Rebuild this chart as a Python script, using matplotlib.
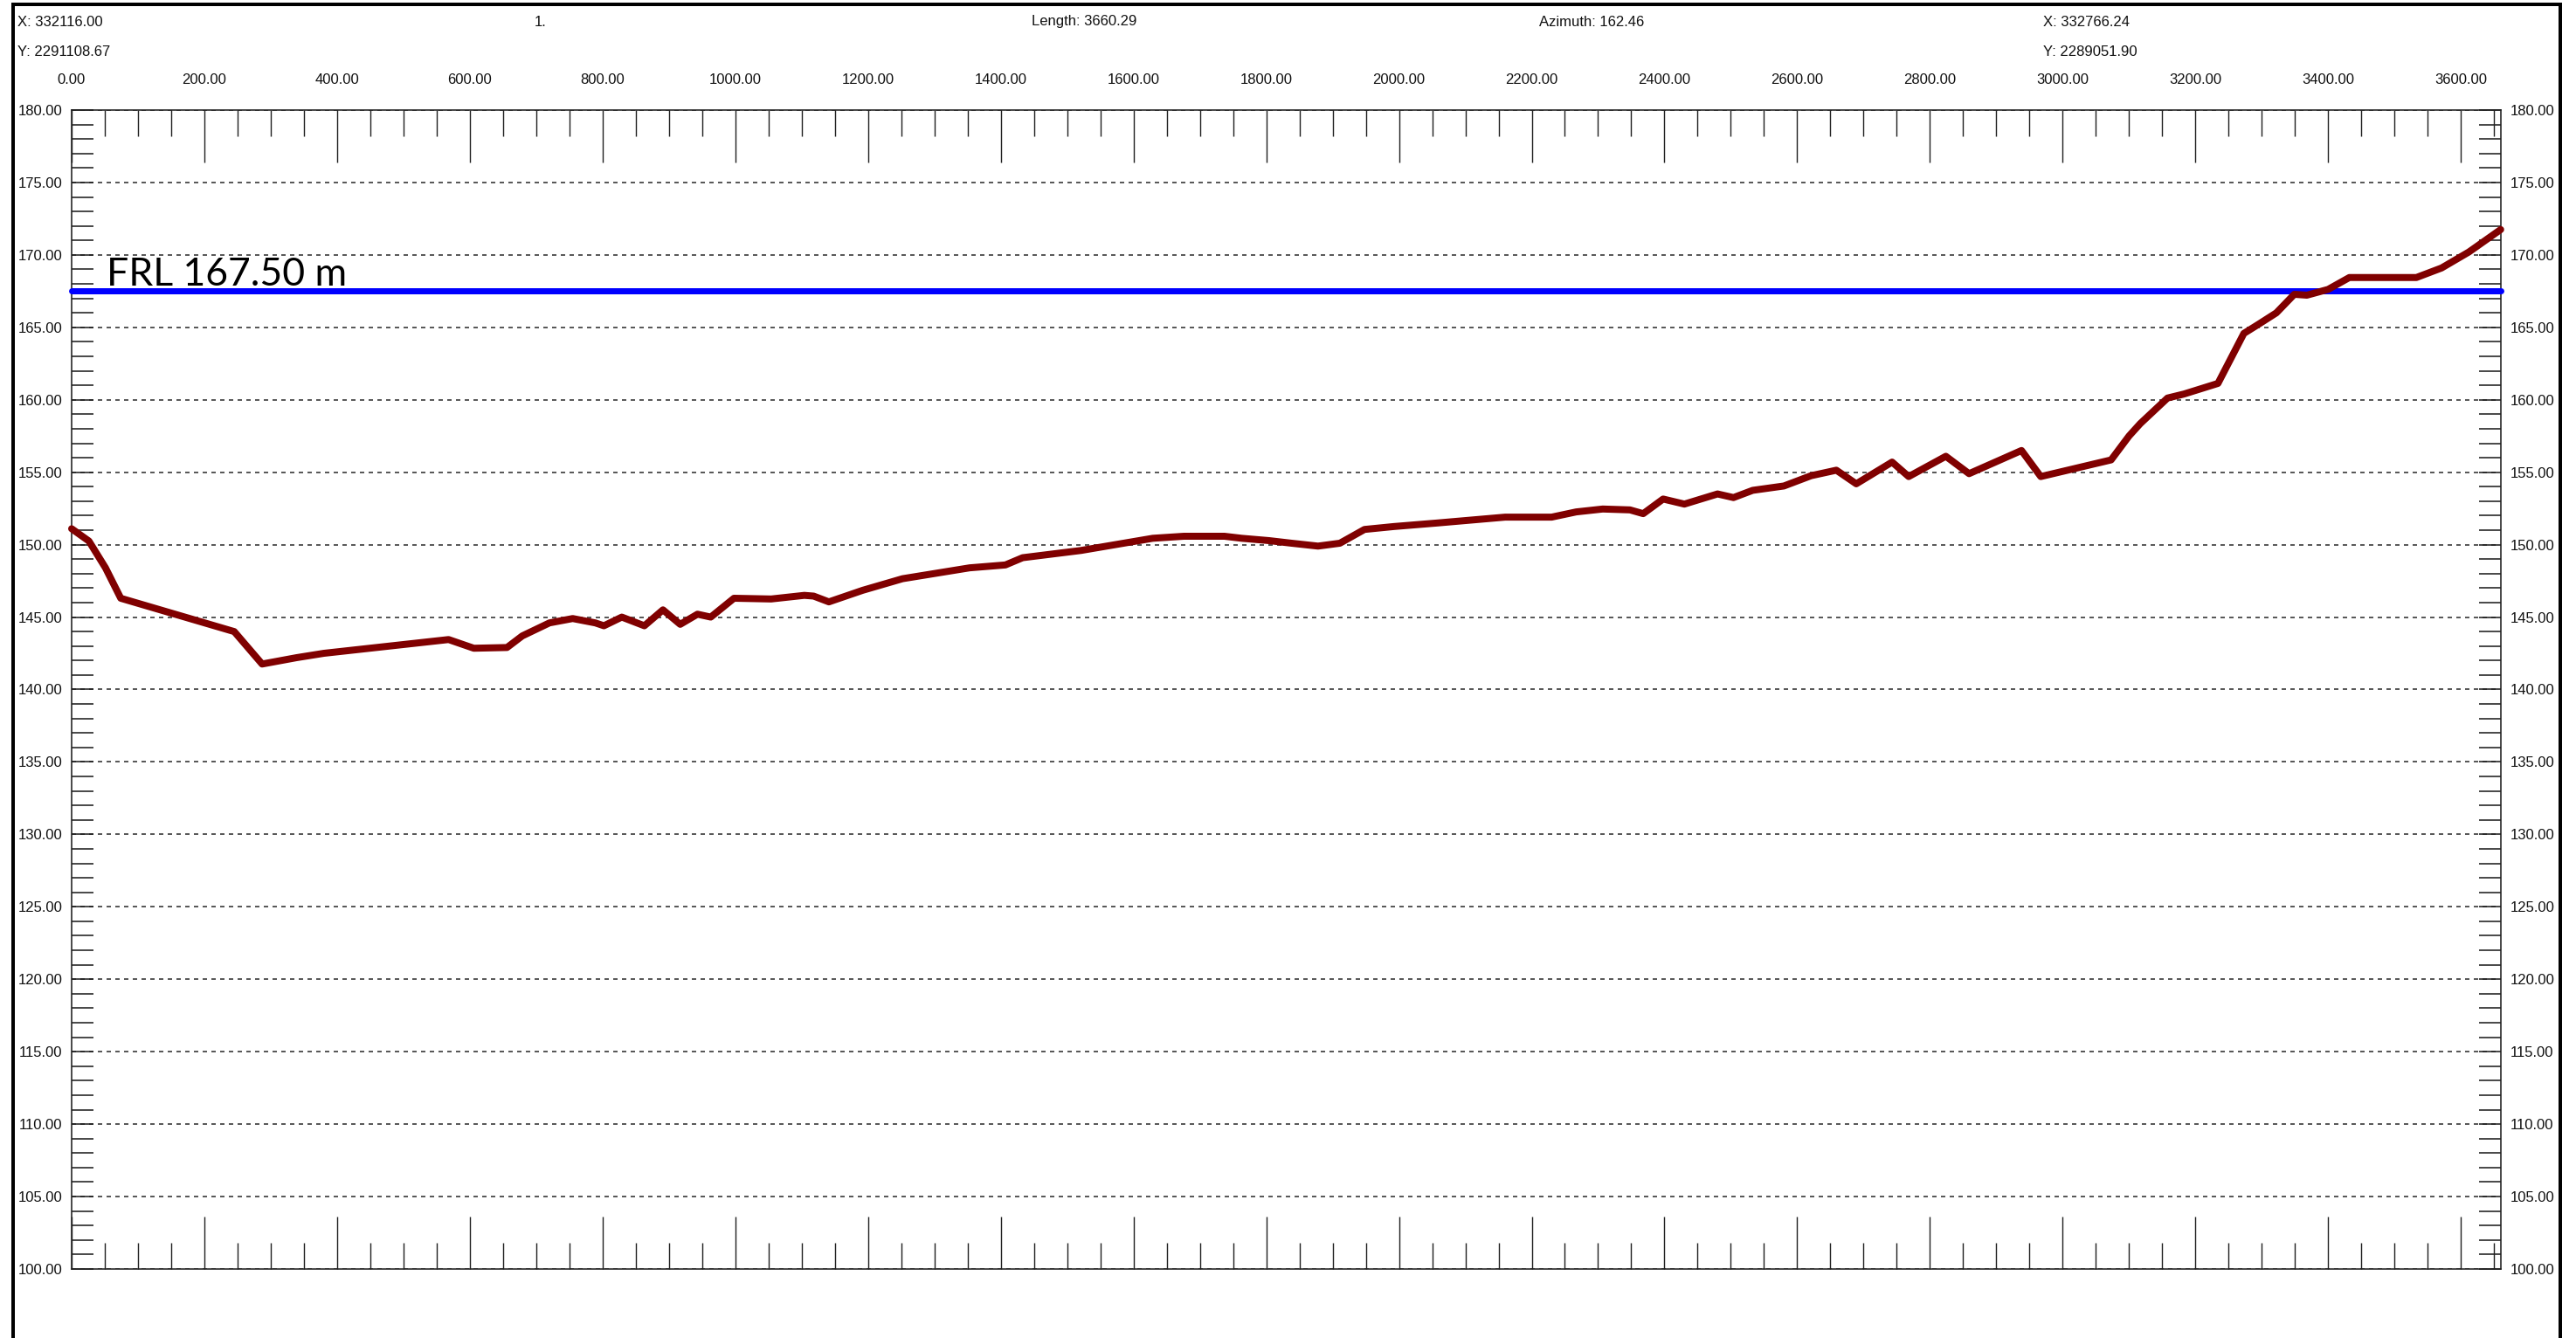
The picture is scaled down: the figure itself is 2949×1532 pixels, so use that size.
import matplotlib
matplotlib.use("Agg")
import matplotlib.pyplot as plt
from matplotlib.ticker import FixedLocator, FuncFormatter
from matplotlib.lines import Line2D

# ---- section data -------------------------------------------------------
chainage = [0, 26, 51, 74, 245, 287, 339, 380, 568, 606, 656, 679, 720, 755,
            789, 802, 829, 863, 891, 917, 943, 963, 998, 1054, 1104, 1118,
            1141, 1192, 1252, 1353, 1407, 1433, 1521, 1629, 1676, 1737, 1763,
            1804, 1838, 1878, 1911, 1948, 1992, 2059, 2160, 2230, 2267, 2307,
            2348, 2368, 2398, 2430, 2480, 2504, 2533, 2580, 2621, 2659, 2689,
            2743, 2768, 2824, 2859, 2938, 2967, 3073, 3100, 3117, 3158, 3183,
            3234, 3273, 3294, 3322, 3349, 3368, 3400, 3432, 3533, 3571, 3612,
            3660]
elevation = [151.1, 150.25, 148.4, 146.3, 144.0, 141.76, 142.2, 142.5, 143.45,
             142.85, 142.9, 143.7, 144.6, 144.9, 144.6, 144.4, 145.0, 144.4,
             145.5, 144.5, 145.2, 145.0, 146.3, 146.25, 146.5, 146.45, 146.05,
             146.85, 147.65, 148.4, 148.6, 149.1, 149.6, 150.44, 150.58, 150.58,
             150.44, 150.28, 150.1, 149.9, 150.1, 151.05, 151.25, 151.5, 151.9,
             151.9, 152.26, 152.46, 152.4, 152.14, 153.15, 152.8, 153.5, 153.25,
             153.75, 154.05, 154.76, 155.14, 154.2, 155.7, 154.7, 156.1, 154.9,
             156.5, 154.7, 155.85, 157.5, 158.36, 160.12, 160.4, 161.13, 164.58,
             165.18, 166.0, 167.28, 167.22, 167.62, 168.44, 168.44, 169.1, 170.2,
             171.75]

frl_level = 167.50
profile_length = 3660.29
azimuth = 162.46
section_label = "1."
start_xy = ("332116.00", "2291108.67")
end_xy = ("332766.24", "2289051.90")

x_major = list(range(0, 3601, 200))
x_minor = [v for v in range(50, 3651, 50) if v % 200]
y_major = list(range(100, 181, 5))
y_minor = [v for v in range(100, 181) if v % 5]
y_range = (100, 180)

# ---- figure geometry ----------------------------------------------------
W, H, DPI = 2949, 1532, 100
PT = 72.0 / DPI          # points per pixel
plt.rcParams["font.family"] = ["Liberation Sans", "DejaVu Sans"]
plt.rcParams["lines.scale_dashes"] = False
TXT = "#111111"
SMALL = 12

fig = plt.figure(figsize=(W / DPI, H / DPI), dpi=DPI)
fig.patch.set_facecolor("white")
ax_l, ax_r, ax_t, ax_b = 82, 2863, 126, 1453
ax = fig.add_axes([ax_l / W, 1 - ax_b / H, (ax_r - ax_l) / W, (ax_b - ax_t) / H])
ax.set_xlim(0, profile_length)
ax.set_ylim(*y_range)

for sp in ax.spines.values():
    sp.set_linewidth(1.6 * PT)
    sp.set_color("#202020")

# chainage ticks: top and bottom, pointing inward, labels on top
ax.xaxis.set_major_locator(FixedLocator(x_major))
ax.xaxis.set_minor_locator(FixedLocator(x_minor))
ax.xaxis.set_major_formatter(FuncFormatter(lambda v, p: f"{v:.2f}"))
ax.tick_params(axis="x", which="both", direction="in", top=True, bottom=True,
               labeltop=True, labelbottom=False, width=1.4 * PT, color="#202020",
               labelsize=SMALL, labelcolor=TXT)
ax.tick_params(axis="x", which="major", length=60 * PT, pad=19.5)
ax.tick_params(axis="x", which="minor", length=30 * PT)

# elevation ticks on both sides
ax.yaxis.set_major_locator(FixedLocator(y_major))
ax.yaxis.set_minor_locator(FixedLocator(y_minor))
ax.yaxis.set_major_formatter(FuncFormatter(lambda v, p: f"{v:.2f}"))
ax.tick_params(axis="y", which="both", direction="in", left=True, right=True,
               labelleft=True, labelright=True, length=25 * PT, width=1.6 * PT,
               color="#202020", labelsize=SMALL, labelcolor=TXT)
ax.tick_params(axis="y", which="major", pad=7.5)

ax.yaxis.grid(True, which="major", color="#222222", linewidth=1.5 * PT,
              linestyle=(0, (5 * PT, 5 * PT)))
ax.set_axisbelow(True)

# formation level line
ax.plot([0, profile_length], [frl_level, frl_level], color="#0000ff",
        linewidth=7 * PT, solid_capstyle="round", clip_on=False, zorder=3)
ax.text(52, 167.9, f"FRL {frl_level:.2f} m", family=["Lato", "DejaVu Sans"],
        fontsize=32, color="black", ha="left", va="baseline", zorder=5)

# ground profile
ax.plot(chainage, elevation, color="#800000", linewidth=8 * PT,
        solid_capstyle="round", solid_joinstyle="round", clip_on=False, zorder=4)

# header information
def ftext(x, y, s, ha="left"):
    fig.text(x / W, 1 - y / H, s, ha=ha, va="center", fontsize=SMALL, color=TXT)

ftext(20, 25, f"X: {start_xy[0]}")
ftext(20, 59, f"Y: {start_xy[1]}")
ftext(612, 25, section_label)
ftext(1241, 25, f"Length: {profile_length:.2f}", ha="center")
ftext(1822, 25, f"Azimuth: {azimuth:.2f}", ha="center")
ftext(2339, 25, f"X: {end_xy[0]}")
ftext(2339, 59, f"Y: {end_xy[1]}")

# window frame
frame_kw = dict(color="black", linewidth=4 * PT, transform=fig.transFigure)
fig.add_artist(Line2D([15 / W, 15 / W], [0, 1 - 5 / H], **frame_kw))
fig.add_artist(Line2D([15 / W, 2931 / W], [1 - 5 / H, 1 - 5 / H], **frame_kw))
fig.add_artist(Line2D([2931 / W, 2931 / W], [0, 1 - 5 / H], **frame_kw))

fig.savefig("out.png", dpi=DPI, facecolor="white")
